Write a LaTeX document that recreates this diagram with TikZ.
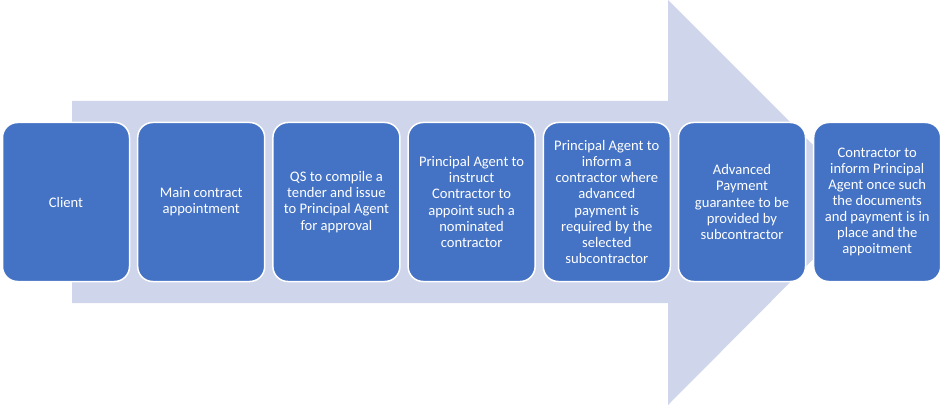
\documentclass[tikz,border=0pt]{standalone}
\usepackage{fontspec}
\setmainfont{Carlito}
\usepackage{tikz}
\usetikzlibrary{positioning}
\definecolor{stepblue}{RGB}{68,114,196}
\definecolor{arrowgrey}{RGB}{207,213,234}
\tikzset{
  stepbox/.style={
    draw=white,line width=1.5pt,fill=stepblue,rounded corners=15pt,
    minimum width=127pt,minimum height=159pt,inner sep=2pt,align=center,
    text=white,font=\fontsize{14.6}{16.1}\selectfont
  },
  bigarrow/.style={fill=arrowgrey,draw=none}
}
\begin{document}
\begin{tikzpicture}[x=1pt,y=1pt,node distance=6.7pt]
  \useasboundingbox (0,0) rectangle (942,405);
  % background arrow
  \path[bigarrow] (72,304) -- (668,304) -- (668,405) -- (870,203)
    -- (668,0) -- (668,102) -- (72,102) -- cycle;
  % steps
  \node[stepbox] (client) at (66,203) {Client};
  \node[stepbox,right=of client] (main) {Main contract\\appointment};
  \node[stepbox,right=of main] (tender) {QS to compile a\\tender and issue\\to Principal Agent\\for approval};
  \node[stepbox,right=of tender] (instruct) {Principal Agent to\\instruct\\Contractor to\\appoint such a\\nominated\\contractor};
  \node[stepbox,right=of instruct] (inform) {Principal Agent to\\inform a\\contractor where\\advanced\\payment is\\required by the\\selected\\subcontractor};
  \node[stepbox,right=of inform] (guarantee) {Advanced\\Payment\\guarantee to be\\provided by\\subcontractor};
  \node[stepbox,right=of guarantee] (confirm) {Contractor to\\inform Principal\\Agent once such\\the documents\\and payment is in\\place and the\\appoitment};
\end{tikzpicture}
\end{document}
